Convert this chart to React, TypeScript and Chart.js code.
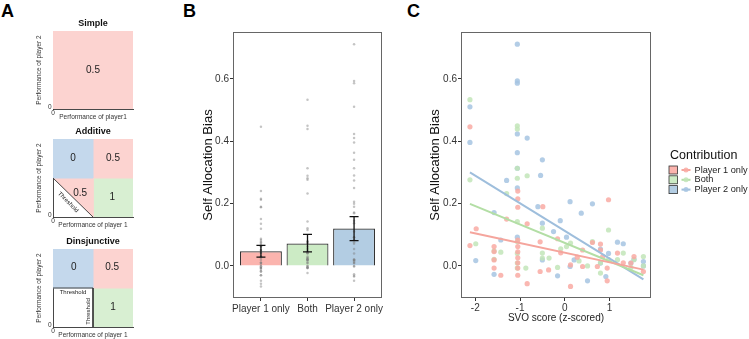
import React, { useEffect, useRef } from 'react';
import { Chart, registerables } from 'chart.js';

Chart.register(...registerables);

const FONT = "'Liberation Sans', Arial, Helvetica, sans-serif";

// ---------------- Panel B / C data ----------------
const categories = ['Player 1 only', 'Both', 'Player 2 only'];
const barMeans = [0.047, 0.072, 0.12];
const errLow = [0.028, 0.045, 0.081];
const errHigh = [0.066, 0.101, 0.158];
const biasTicks = [0, 0.2, 0.4, 0.6];
const svoTicks = [-2, -1, 0, 1];

const svoP1 = [-2.12, -2.12, -1.98, -1.58, -1.58, -1.58, -1.58, -1.43, -1.3, -1.05, -1.05, -1.05, -1.05, -1.05, -1.05, -1.05, -1.05, -1.05, -1.05, -0.84, -0.84, -0.55, -0.55, -0.49, -0.36, -0.16, -0.09, 0.13, 0.13, 0.28, 0.4, 0.4, 0.62, 0.73, 0.8, 0.8, 0.85, 0.95, 0.95, 0.98, 1.18, 1.31, 1.48, 1.55, 1.76];
const biasP1 = [0.446, 0.065, 0.119, 0.062, 0.046, 0.019, -0.007, -0.03, 0.15, 0.215, 0.188, 0.083, 0.062, 0.045, 0.026, 0.01, -0.007, -0.03, 0.24, 0.135, -0.057, 0.077, -0.018, 0.19, -0.013, 0.087, 0.042, 0.003, -0.066, 0.028, 0.051, -0.002, 0.075, -0.002, 0.07, 0.051, 0.03, -0.007, -0.048, 0.212, 0.041, 0.01, 0.009, 0.03, -0.018];

const svoBoth = [-2.12, -2.12, -1.99, -1.58, -1.58, -1.43, -1.3, -1.06, -1.06, -1.06, -1.06, -1.06, -1.06, -1.06, -1.06, -1.06, -0.87, -0.84, -0.5, -0.5, -0.5, -0.35, -0.16, -0.09, 0.04, 0.13, 0.32, 0.51, 0.62, 0.8, 0.8, 0.98, 0.98, 1.18, 1.31, 1.48, 1.55, 1.76, 1.76];
const biasBoth = [0.533, 0.276, 0.071, 0.048, 0.021, 0.044, 0.232, 0.449, 0.439, 0.281, 0.313, 0.142, 0.078, 0.04, 0.009, -0.007, -0.007, 0.289, 0.121, 0.041, 0.025, 0.025, -0.005, 0.055, 0.062, 0.073, 0.016, 0.0, 0.078, -0.023, 0.01, 0.115, 0.02, 0.02, 0.041, -0.005, 0.02, 0.03, 0.0];

const svoP2 = [-2.12, -2.12, -1.99, -1.58, -1.58, -1.43, -1.3, -1.06, -1.06, -1.06, -1.06, -1.06, -1.06, -1.06, -1.06, -0.84, -0.6, -0.54, -0.5, -0.5, -0.5, -0.25, -0.16, -0.1, 0.04, 0.12, 0.12, 0.21, 0.37, 0.51, 0.62, 0.8, 0.8, 0.92, 0.98, 1.18, 1.31, 1.48, 1.55, 1.76, 1.76];
const biasP2 = [0.51, 0.396, 0.017, 0.171, -0.027, 0.083, 0.274, 0.711, 0.593, 0.586, 0.423, 0.363, 0.313, 0.25, 0.092, 0.41, 0.19, 0.29, 0.34, 0.137, 0.019, 0.11, -0.032, 0.145, 0.092, 0.206, -0.002, 0.019, 0.169, -0.048, 0.199, 0.009, 0.054, -0.034, 0.04, 0.076, 0.071, 0.009, 0.021, 0.014, 0.0];

const fitX = [-2.12, 1.76];
const fitP1 = [0.108, -0.012];
const fitBoth = [0.199, -0.03];
const fitP2 = [0.3, -0.043];

// ---------------- Panel A data ----------------
const originLabel = '0';
const simpleCells = [
  { payoff: '0.5', corners: [[0, 0], [1, 0], [1, 1], [0, 1]], at: [0.5, 0.5] },
];
const additiveCells = [
  { payoff: '0', corners: [[0, 0.5], [0.5, 0.5], [0.5, 1], [0, 1]], at: [0.25, 0.75] },
  { payoff: '0.5', corners: [[0.5, 0.5], [1, 0.5], [1, 1], [0.5, 1]], at: [0.75, 0.75] },
  { payoff: '0.5', corners: [[0, 0.5], [0.5, 0.5], [0.5, 0]], at: [0.34, 0.31] },
  { payoff: '1', corners: [[0.5, 0], [1, 0], [1, 0.5], [0.5, 0.5]], at: [0.74, 0.25] },
];
const additiveThresholds = [[[0, 0.5], [0.5, 0]]];
const additiveThresholdText = [{ at: [0.19, 0.19], angle: 45 }];
const disjCells = [
  { payoff: '0', corners: [[0, 0.5], [0.5, 0.5], [0.5, 1], [0, 1]], at: [0.26, 0.76] },
  { payoff: '0.5', corners: [[0.5, 0.5], [1, 0.5], [1, 1], [0.5, 1]], at: [0.74, 0.76] },
  { payoff: '1', corners: [[0.5, 0], [1, 0], [1, 0.5], [0.5, 0.5]], at: [0.75, 0.25] },
];
const disjThresholds = [[[0, 0.5], [0.5, 0.5]], [[0.5, 0.5], [0.5, 0]]];
const disjThresholdText = [{ at: [0.25, 0.445], angle: 0 }, { at: [0.445, 0.2], angle: -90 }];

// ---------------- styles ----------------
const payoffColor: Record<string, string> = { '0': '#C4D8EC', '0.5': '#FCD3D0', '1': '#D8EFD2' };
const barColors = ['#FBB4AE', '#CCEBC5', '#B3CDE3'];
const pointColors = ['rgba(249,170,163,0.85)', 'rgba(194,229,184,0.85)', 'rgba(166,196,226,0.85)'];
const lineColors = ['#F5A59D', '#B3DEA5', '#9EBEDC'];

const aTextPlugin = {
  id: 'aTexts',
  afterDraw(chart: any, _args: any, opts: any) {
    const { ctx, chartArea: a, scales } = chart;
    const x = scales.x;
    const y = scales.y;
    ctx.save();
    ctx.textAlign = 'center';
    ctx.textBaseline = 'middle';
    ctx.fillStyle = '#111';
    ctx.font = `bold 9px ${FONT}`;
    ctx.fillText(opts.title, (a.left + a.right) / 2, a.top - 7.5);
    ctx.font = `10px ${FONT}`;
    ctx.fillStyle = '#222';
    (opts.cells || []).forEach((c: any) => {
      ctx.fillText(c.payoff, x.getPixelForValue(c.at[0]), y.getPixelForValue(c.at[1]));
    });
    ctx.font = `6px ${FONT}`;
    ctx.fillStyle = '#222';
    (opts.thresholdText || []).forEach((t: any) => {
      ctx.save();
      ctx.translate(x.getPixelForValue(t.at[0]), y.getPixelForValue(t.at[1]));
      ctx.rotate((t.angle * Math.PI) / 180);
      ctx.fillText('Threshold', 0, 0);
      ctx.restore();
    });
    // origin labels (tick "0" of both axes)
    const ox = x.getPixelForValue(0);
    const oy = y.getPixelForValue(0);
    ctx.font = `6.5px ${FONT}`;
    ctx.fillStyle = '#333';
    ctx.textAlign = 'right';
    ctx.fillText(originLabel, ox - 1.5, oy - 2);
    ctx.textAlign = 'center';
    ctx.fillText(originLabel, ox, oy + 4.5);
    ctx.restore();
  },
};

function aConfig(title: string, xTitle: string, cells: any[], thresholds: any[], thresholdText: any[]): any {
  const datasets: any[] = [];
  cells.forEach((c) => {
    datasets.push({
      type: 'line',
      data: c.corners.map((p: number[]) => ({ x: p[0], y: p[1] })),
      fill: 'shape',
      backgroundColor: payoffColor[c.payoff],
      borderColor: payoffColor[c.payoff],
      borderWidth: 1,
      pointRadius: 0,
      tension: 0,
      order: 2,
    });
  });
  thresholds.forEach((l) => {
    datasets.push({
      type: 'line',
      data: l.map((p: number[]) => ({ x: p[0], y: p[1] })),
      fill: false,
      borderColor: '#333',
      borderWidth: 0.9,
      pointRadius: 0,
      order: 1,
    });
  });
  return {
    type: 'line',
    data: { datasets },
    options: {
      animation: false,
      responsive: false,
      maintainAspectRatio: false,
      layout: { padding: { top: 16, right: 23, left: 0, bottom: 0 } },
      plugins: {
        legend: { display: false },
        tooltip: { enabled: false },
        aTexts: { title, cells, thresholdText },
      },
      scales: {
        x: {
          type: 'linear', min: 0, max: 1, z: 1,
          afterFit: (s: any) => { s.height = 14; },
          grid: { display: false },
          border: { display: true, color: '#333', width: 0.9 },
          ticks: { display: false },
          title: { display: true, text: xTitle, font: { size: 6.5, family: FONT }, color: '#333', padding: { top: 0, bottom: 2 } },
        },
        y: {
          type: 'linear', min: 0, max: 1, z: 1,
          afterFit: (s: any) => { s.width = 23; },
          grid: { display: false },
          border: { display: true, color: '#333', width: 0.9 },
          ticks: { display: false },
          title: { display: true, text: 'Performance of player 2', font: { size: 6.5, family: FONT }, color: '#333', padding: { top: 5, bottom: 0 } },
        },
      },
    },
    plugins: [aTextPlugin],
  };
}

const framePlugin = {
  id: 'frame',
  afterDatasetsDraw(chart: any) {
    const { ctx, chartArea: a } = chart;
    ctx.save();
    ctx.strokeStyle = '#666';
    ctx.lineWidth = 1;
    ctx.strokeRect(Math.round(a.left) + 0.5, Math.round(a.top) + 0.5, Math.round(a.right - a.left) - 1, Math.round(a.bottom - a.top) - 1);
    ctx.restore();
  },
};

const errorBarPlugin = {
  id: 'errorBars',
  afterDatasetsDraw(chart: any) {
    const { ctx, scales } = chart;
    const x = scales.x;
    const y = scales.y;
    ctx.save();
    ctx.strokeStyle = '#111';
    ctx.lineWidth = 1.3;
    categories.forEach((_c, i) => {
      const px = x.getPixelForValue(i + 1);
      const lo = y.getPixelForValue(errLow[i]);
      const hi = y.getPixelForValue(errHigh[i]);
      ctx.beginPath();
      ctx.moveTo(px, lo); ctx.lineTo(px, hi);
      ctx.moveTo(px - 4.5, lo); ctx.lineTo(px + 4.5, lo);
      ctx.moveTo(px - 4.5, hi); ctx.lineTo(px + 4.5, hi);
      ctx.stroke();
    });
    ctx.restore();
  },
};

const legendPlugin = {
  id: 'contribLegend',
  afterDraw(chart: any) {
    const { ctx, chartArea: a } = chart;
    const x0 = a.right + 18;
    const y0 = a.top + 124;
    ctx.save();
    ctx.textAlign = 'left';
    ctx.textBaseline = 'middle';
    ctx.fillStyle = '#111';
    ctx.font = `12.5px ${FONT}`;
    ctx.fillText('Contribution', x0 + 1, y0);
    categories.forEach((name, i) => {
      const cy = y0 + 14 + i * 9.8;
      ctx.fillStyle = barColors[i];
      ctx.fillRect(x0, cy - 4, 8.5, 8);
      ctx.strokeStyle = '#333';
      ctx.lineWidth = 0.8;
      ctx.strokeRect(x0, cy - 4, 8.5, 8);
      ctx.strokeStyle = lineColors[i];
      ctx.lineWidth = 2;
      ctx.beginPath();
      ctx.moveTo(x0 + 12.5, cy);
      ctx.lineTo(x0 + 21.5, cy);
      ctx.stroke();
      ctx.fillStyle = pointColors[i];
      ctx.beginPath();
      ctx.arc(x0 + 17, cy, 2.5, 0, Math.PI * 2);
      ctx.fill();
      ctx.fillStyle = '#222';
      ctx.font = `9.2px ${FONT}`;
      ctx.fillText(name, x0 + 25.5, cy);
    });
    ctx.restore();
  },
};

function biasAxis(width: number, titlePadTop: number): any {
  return {
    type: 'linear', min: -0.103, max: 0.75,
    afterBuildTicks: (s: any) => { s.ticks = biasTicks.map((v) => ({ value: v })); },
    afterFit: (s: any) => { s.width = width; },
    grid: { display: true, drawOnChartArea: false, drawTicks: true, tickLength: 3, color: '#333' },
    border: { display: false },
    ticks: { color: '#333', font: { family: FONT, size: 10 }, padding: 1, autoSkip: false, callback: (v: any) => Number(v).toFixed(1) },
    title: { display: true, text: 'Self Allocation Bias', color: '#111', font: { family: FONT, size: 13 }, padding: { top: titlePadTop, bottom: 0 } },
  };
}

function bConfig(): any {
  const dots = [biasP1, biasBoth, biasP2].flatMap((arr, i) => arr.map((v) => ({ x: i + 1, y: v })));
  return {
    type: 'bar',
    data: {
      datasets: [
        {
          type: 'bar',
          data: barMeans.map((v, i) => ({ x: i + 1, y: v })),
          backgroundColor: barColors,
          borderColor: '#333',
          borderWidth: 1.2,
          barPercentage: 0.9,
          categoryPercentage: 1,
          order: 2,
        },
        {
          type: 'scatter',
          data: dots,
          pointRadius: 1.25,
          pointBackgroundColor: 'rgba(125,125,125,0.45)',
          pointBorderWidth: 0,
          order: 1,
        },
      ],
    },
    options: {
      animation: false,
      responsive: false,
      maintainAspectRatio: false,
      layout: { padding: { top: 32, right: 8, left: 0, bottom: 0 } },
      plugins: { legend: { display: false }, tooltip: { enabled: false } },
      scales: {
        x: {
          type: 'linear', min: 0.4, max: 3.6, offset: false,
          afterBuildTicks: (s: any) => { s.ticks = categories.map((_c, i) => ({ value: i + 1 })); },
          afterFit: (s: any) => { s.height = 41; },
          grid: { display: true, drawOnChartArea: false, drawTicks: true, tickLength: 3, color: '#333', offset: false },
          border: { display: false },
          ticks: { color: '#333', font: { family: FONT, size: 10 }, padding: 2, maxRotation: 0, autoSkip: false, callback: (v: any) => categories[Math.round(v) - 1] ?? '' },
        },
        y: biasAxis(43, 10.2),
      },
    },
    plugins: [framePlugin, errorBarPlugin],
  };
}

function cConfig(): any {
  const series = [
    { xs: svoP1, ys: biasP1, fit: fitP1 },
    { xs: svoBoth, ys: biasBoth, fit: fitBoth },
    { xs: svoP2, ys: biasP2, fit: fitP2 },
  ];
  const datasets: any[] = [];
  series.forEach((s, i) => {
    datasets.push({
      type: 'scatter',
      label: categories[i],
      data: s.xs.map((x, j) => ({ x, y: s.ys[j] })),
      pointRadius: 2.6,
      pointBackgroundColor: pointColors[i],
      pointBorderWidth: 0,
      order: 2,
    });
  });
  series.forEach((s, i) => {
    datasets.push({
      type: 'line',
      data: fitX.map((x, j) => ({ x, y: s.fit[j] })),
      borderColor: lineColors[i],
      borderWidth: 2,
      pointRadius: 0,
      fill: false,
      order: 1,
    });
  });
  return {
    type: 'scatter',
    data: { datasets },
    options: {
      animation: false,
      responsive: false,
      maintainAspectRatio: false,
      layout: { padding: { top: 32, right: 98, left: 0, bottom: 0 } },
      plugins: { legend: { display: false }, tooltip: { enabled: false } },
      scales: {
        x: {
          type: 'linear', min: -2.32, max: 1.93,
          afterBuildTicks: (s: any) => { s.ticks = svoTicks.map((v) => ({ value: v })); },
          afterFit: (s: any) => { s.height = 41; },
          grid: { display: true, drawOnChartArea: false, drawTicks: true, tickLength: 3, color: '#333' },
          border: { display: false },
          ticks: { color: '#333', font: { family: FONT, size: 10 }, padding: 1, maxRotation: 0, autoSkip: false, callback: (v: any) => String(v) },
          title: { display: true, text: 'SVO score (z-scored)', color: '#222', font: { family: FONT, size: 10 }, padding: { top: 0, bottom: 15 } },
        },
        y: biasAxis(61, 27.2),
      },
    },
    plugins: [framePlugin, legendPlugin],
  };
}

const letterStyle = (left: number): React.CSSProperties => ({
  position: 'absolute', left, top: 2, fontFamily: FONT, fontWeight: 'bold', fontSize: 18, lineHeight: '18px', color: '#000',
});

export default function App() {
  const a1 = useRef<HTMLCanvasElement>(null);
  const a2 = useRef<HTMLCanvasElement>(null);
  const a3 = useRef<HTMLCanvasElement>(null);
  const b = useRef<HTMLCanvasElement>(null);
  const c = useRef<HTMLCanvasElement>(null);

  useEffect(() => {
    const charts = [
      new Chart(a1.current as HTMLCanvasElement, aConfig('Simple', 'Performance of player1', simpleCells, [], [])),
      new Chart(a2.current as HTMLCanvasElement, aConfig('Additive', 'Performance of player 1', additiveCells, additiveThresholds, additiveThresholdText)),
      new Chart(a3.current as HTMLCanvasElement, aConfig('Dinsjunctive', 'Performance of player 1', disjCells, disjThresholds, disjThresholdText)),
      new Chart(b.current as HTMLCanvasElement, bConfig()),
      new Chart(c.current as HTMLCanvasElement, cConfig()),
    ];
    return () => charts.forEach((ch) => ch.destroy());
  }, []);

  const cv = (left: number, top: number, w: number, h: number): React.CSSProperties => ({
    position: 'absolute', left, top, width: w, height: h,
  });

  return (
    <div style={{ position: 'fixed', left: 0, top: 0, width: 749, height: 339, background: '#fff', overflow: 'hidden' }}>
      <div style={letterStyle(1)}>A</div>
      <div style={letterStyle(183)}>B</div>
      <div style={letterStyle(407)}>C</div>
      <canvas ref={a1} width={126} height={108} style={cv(30, 15, 126, 108)} />
      <canvas ref={a2} width={126} height={108} style={cv(30, 123, 126, 108)} />
      <canvas ref={a3} width={126} height={108} style={cv(30, 233, 126, 108)} />
      <canvas ref={b} width={200} height={339} style={cv(190, 0, 200, 339)} />
      <canvas ref={c} width={349} height={339} style={cv(400, 0, 349, 339)} />
    </div>
  );
}
